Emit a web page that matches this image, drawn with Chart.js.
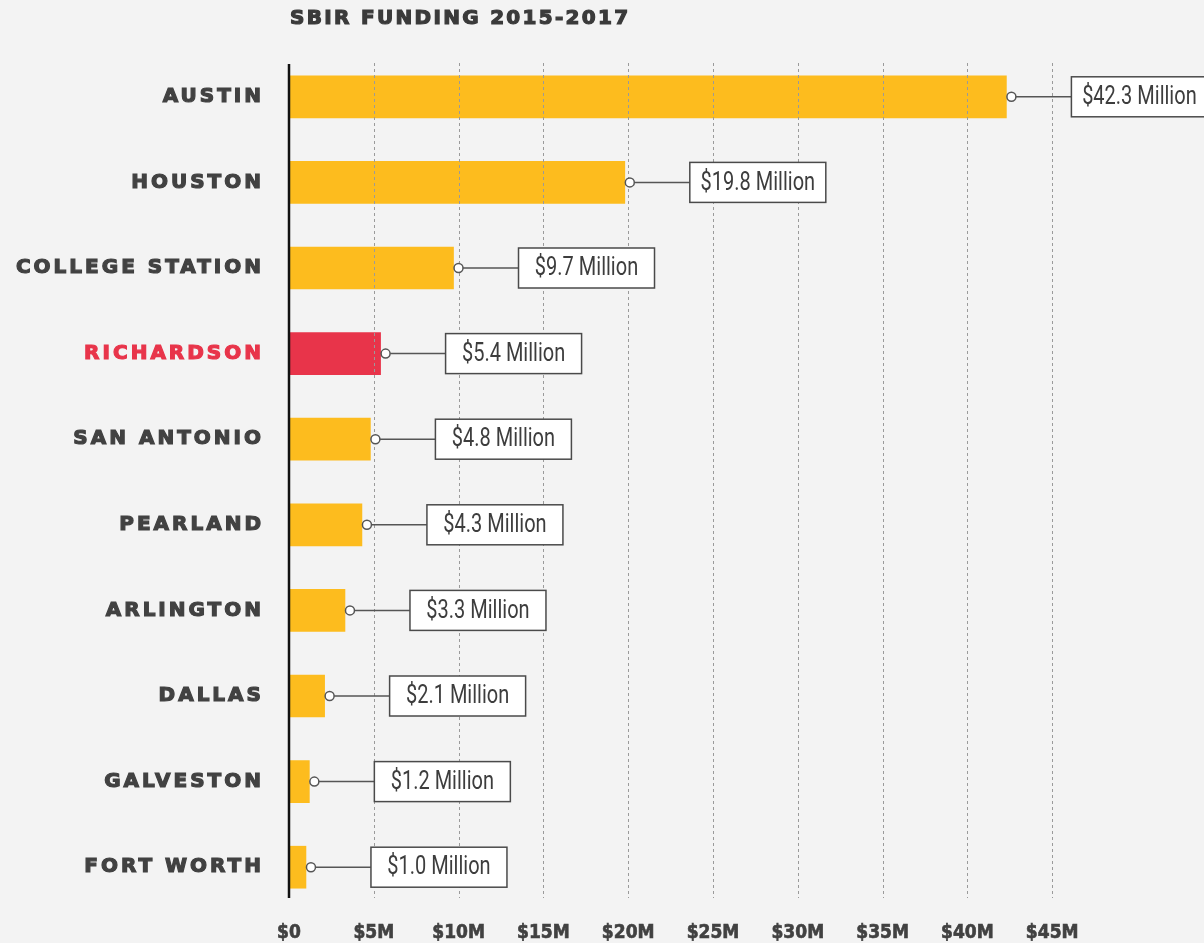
<!DOCTYPE html>
<html>
<head>
<meta charset="utf-8">
<title>SBIR Funding 2015-2017</title>
<script src="https://cdn.jsdelivr.net/npm/chart.js@4.4.1/dist/chart.umd.min.js"></script>
<style>
  html, body { margin: 0; padding: 0; background: #f3f3f3; }
  #wrap { width: 1204px; height: 943px; position: relative; }
</style>
</head>
<body>
<div id="wrap"><canvas id="sbirChart"></canvas></div>
<script>
// SBIR funding by city, in millions of dollars
var cities = ["AUSTIN", "HOUSTON", "COLLEGE STATION", "RICHARDSON", "SAN ANTONIO",
              "PEARLAND", "ARLINGTON", "DALLAS", "GALVESTON", "FORT WORTH"];
var funding = [42.3, 19.8, 9.7, 5.4, 4.8, 4.3, 3.3, 2.1, 1.2, 1.0];
var highlightCity = "RICHARDSON";
var axisTicks = [0, 5, 10, 15, 20, 25, 30, 35, 40, 45];

var YELLOW = '#fdbc1e';
var RED = '#e8344a';
var INK = '#414141';

var barColors = cities.map(function (c) { return c === highlightCity ? RED : YELLOW; });

// wide letter spacing for the city names; x tick labels draw later (ticks.z = 1) without it
var spacing = {
  id: 'spacing',
  beforeDraw: function (chart) { chart.ctx.letterSpacing = '3px'; },
  afterDatasetsDraw: function (chart) {
    var ctx = chart.ctx, xs = chart.scales.x;
    ctx.letterSpacing = '0px';
    // dashed grid, on top of the bars
    ctx.save();
    ctx.strokeStyle = '#9a9a9a';
    ctx.lineWidth = 1;
    ctx.setLineDash([3, 3]);
    axisTicks.forEach(function (v) {
      if (v === 0) return;
      var px = Math.round(xs.getPixelForValue(v)) + 0.5;
      ctx.beginPath();
      ctx.moveTo(px, 63);
      ctx.lineTo(px, 898);
      ctx.stroke();
    });
    ctx.restore();
  }
};

// value callouts, y axis rule and heading
var callouts = {
  id: 'callouts',
  afterDraw: function (chart) {
    var ctx = chart.ctx, xs = chart.scales.x;
    var meta = chart.getDatasetMeta(0);
    ctx.save();
    ctx.letterSpacing = '0px';
    meta.data.forEach(function (bar, i) {
      var cx = bar.x + 5, cy = bar.y;
      var bx = bar.x + 65, bw = 136, bh = 40;
      ctx.strokeStyle = '#555';
      ctx.lineWidth = 1.5;
      ctx.beginPath();
      ctx.moveTo(cx + 4.5, cy);
      ctx.lineTo(bx, cy);
      ctx.stroke();
      ctx.beginPath();
      ctx.arc(cx, cy, 4.5, 0, Math.PI * 2);
      ctx.fillStyle = '#fff';
      ctx.fill();
      ctx.stroke();
      ctx.fillStyle = '#fff';
      ctx.fillRect(bx, cy - bh / 2, bw, bh);
      ctx.strokeStyle = '#4a4a4a';
      ctx.strokeRect(bx, cy - bh / 2, bw, bh);
      // condensed label: squeeze Roboto horizontally
      ctx.save();
      ctx.translate(bx + bw / 2, cy + 1);
      ctx.scale(0.8, 1);
      ctx.fillStyle = '#3d3d3d';
      ctx.font = '25px Roboto, sans-serif';
      ctx.textAlign = 'center';
      ctx.textBaseline = 'middle';
      ctx.fillText('$' + funding[i].toFixed(1) + ' Million', 0, 0);
      ctx.restore();
    });

    // black baseline at $0
    var x0 = xs.getPixelForValue(0);
    ctx.strokeStyle = '#111';
    ctx.lineWidth = 2.5;
    ctx.beginPath();
    ctx.moveTo(x0, 64);
    ctx.lineTo(x0, 898);
    ctx.stroke();

    ctx.letterSpacing = '2.3px';
    ctx.fillStyle = '#3a3a3a';
    ctx.strokeStyle = '#3a3a3a';
    ctx.lineWidth = 1.2;
    ctx.font = 'bold 20px "DejaVu Sans", sans-serif';
    ctx.textAlign = 'left';
    ctx.textBaseline = 'middle';
    ctx.strokeText('SBIR FUNDING 2015-2017', x0 + 1, 19);
    ctx.fillText('SBIR FUNDING 2015-2017', x0 + 1, 19);
    ctx.restore();
  }
};

new Chart(document.getElementById('sbirChart'), {
  type: 'bar',
  data: {
    labels: cities,
    datasets: [{
      data: funding,
      backgroundColor: barColors,
      borderWidth: 0,
      barThickness: 42
    }]
  },
  options: {
    indexAxis: 'y',
    responsive: true,
    maintainAspectRatio: false,
    animation: false,
    layout: { padding: { top: 54, right: 67, left: 0, bottom: 0 } },
    plugins: {
      legend: { display: false },
      title: { display: false },
      tooltip: { enabled: false }
    },
    scales: {
      x: {
        type: 'linear',
        min: 0,
        max: 50,
        grid: { display: false },
        border: { display: false },
        ticks: {
          z: 1,
          stepSize: 5,
          padding: 4,
          color: INK,
          textStrokeColor: INK,
          textStrokeWidth: 0.6,
          font: { family: '"Liberation Sans Narrow", "DejaVu Sans Condensed", sans-serif', size: 19, weight: 'bold' },
          maxRotation: 0,
          callback: function (v) {
            if (axisTicks.indexOf(v) < 0) return '';
            return v === 0 ? '$0' : '$' + v + 'M';
          }
        },
        afterFit: function (s) { s.height = 33; }
      },
      y: {
        grid: { display: false },
        border: { display: false },
        ticks: {
          padding: 17,
          color: function (c) { return cities[c.index] === highlightCity ? RED : INK; },
          textStrokeColor: function (c) { return cities[c.index] === highlightCity ? RED : INK; },
          textStrokeWidth: 1.2,
          font: { family: '"DejaVu Sans", sans-serif', size: 20, weight: 'bold' }
        },
        afterFit: function (s) { s.width = 289; }
      }
    }
  },
  plugins: [spacing, callouts]
});
</script>
</body>
</html>
